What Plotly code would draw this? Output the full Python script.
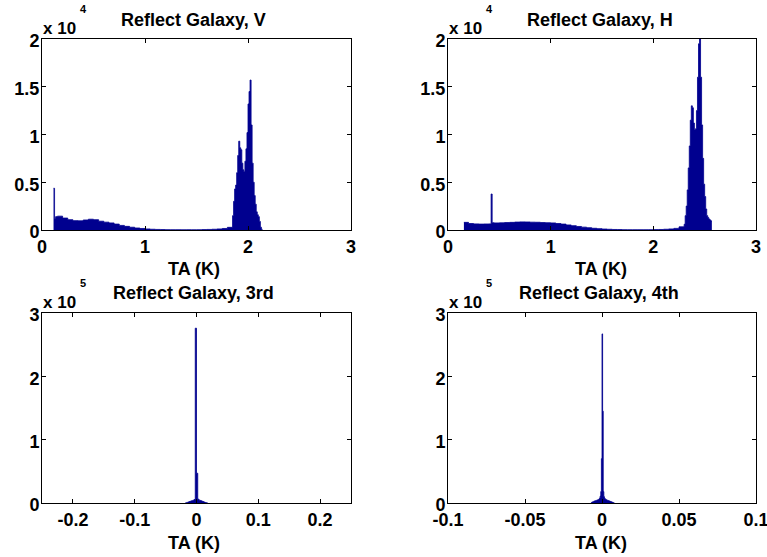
import plotly.graph_objects as go

W, H = 767, 557

# ---------------- data (histogram bin edges and counts) ----------------
v_edges = [0.112, 0.122, 0.132, 0.15, 0.20, 0.25, 0.30, 0.35, 0.40, 0.45, 0.50, 0.55,
           0.60, 0.65, 0.70, 0.75, 0.80, 0.85, 0.90, 0.95, 1.00, 1.05, 1.10, 1.15,
           1.20, 1.25, 1.30, 1.35, 1.40, 1.45, 1.50, 1.55, 1.60, 1.65, 1.70, 1.75,
           1.80, 1.85, 1.86, 1.87, 1.88, 1.89, 1.90, 1.91, 1.92, 1.93, 1.94, 1.95,
           1.96, 1.97, 1.98, 1.99, 2.00, 2.01, 2.02, 2.03, 2.04, 2.05, 2.06, 2.07,
           2.08, 2.09, 2.10, 2.11, 2.12, 2.13, 2.14]
v_counts = [4370, 1200, 1400,
            1450, 1250, 1080, 980, 960, 1050, 1130, 1080, 920, 820, 740, 620, 480,
            380, 290, 210, 160, 110, 80, 60, 45, 35, 30, 30, 25, 30, 25, 30, 40,
            60, 80, 110, 160, 280,
            1500, 3000, 4300, 4700, 6000, 7800, 9300, 8600, 8400, 7000, 6300, 6100,
            7200, 8500, 10200, 13200, 14500, 15700, 11000, 7000, 5000, 3600, 2700,
            1900, 1600, 1400, 900, 300, 80]

h_edges = [0.155, 0.20, 0.25, 0.30, 0.35, 0.40, 0.42, 0.43, 0.45, 0.50, 0.55, 0.60,
           0.65, 0.70, 0.75, 0.80, 0.85, 0.90, 0.95, 1.00, 1.05, 1.10, 1.15, 1.20,
           1.25, 1.30, 1.35, 1.40, 1.45, 1.50, 1.55, 1.60, 1.65, 1.70, 1.75, 1.80,
           1.85, 1.90, 1.95, 2.00, 2.05, 2.10, 2.15, 2.20, 2.25, 2.30, 2.31, 2.32,
           2.33, 2.34, 2.35, 2.36, 2.37, 2.38, 2.39, 2.40, 2.41, 2.42, 2.43, 2.44,
           2.45, 2.46, 2.47, 2.48, 2.49, 2.50, 2.51, 2.52, 2.53, 2.54, 2.55, 2.56,
           2.57]
h_counts = [800, 680, 640, 620, 630, 640, 3770, 760,
            740, 750, 780, 800, 830, 850, 840, 820, 810, 780, 760, 740, 680, 620,
            530, 450, 370, 300, 240, 180, 140, 100, 75, 55, 45, 35, 30, 30, 30, 30,
            35, 40, 55, 80, 110, 170, 330,
            600, 1500, 2500, 4200, 6500, 8800, 11500, 13000, 12800, 11200, 10500,
            10600, 12500, 16000, 19500, 20000, 16000, 11000, 7500, 4800, 3500, 2200,
            1500, 1300, 1150, 1050, 950]

s3_edges = [-0.018, -0.016, -0.014, -0.012, -0.010, -0.008, -0.006, -0.004, -0.002,
            0.000, 0.002, 0.004, 0.006, 0.008, 0.010, 0.012, 0.014, 0.016, 0.018]
s3_counts = [300, 900, 1600, 2300, 3000, 3700, 4300, 5500, 276000,
             47000, 6000, 4500, 3800, 3000, 2200, 1400, 700, 200]

s4_edges = [-0.0072, -0.0068, -0.0064, -0.0060, -0.0056, -0.0052, -0.0048, -0.0044,
            -0.0040, -0.0036, -0.0032, -0.0028, -0.0024, -0.0020, -0.0016, -0.0012,
            -0.0008, -0.0004, 0.0000, 0.0004, 0.0008, 0.0012, 0.0016, 0.0020,
            0.0024, 0.0028, 0.0032, 0.0036, 0.0040, 0.0044, 0.0048, 0.0052,
            0.0056, 0.0060, 0.0064, 0.0068, 0.0072, 0.0076, 0.0080]
s4_counts = [500, 1000, 1500, 2000, 2500, 3000, 3300, 3700, 4000, 4300, 4600, 5000,
             5500, 6500, 8000, 11000, 18000, 70000, 267000, 145000, 18000, 10000,
             7500, 6500, 5500, 5000, 4500, 4200, 3800, 3400, 3000, 2600, 2200, 1800,
             1400, 1000, 600, 300]

titles = ["Reflect Galaxy, V", "Reflect Galaxy, H", "Reflect Galaxy, 3rd", "Reflect Galaxy, 4th"]
exponents = ["4", "4", "5", "5"]
x_label = "TA (K)"

x_ranges = [[0, 3], [0, 3], [-0.25, 0.25], [-0.1, 0.1]]
x_ticks = [[0, 1, 2, 3], [0, 1, 2, 3], [-0.2, -0.1, 0, 0.1, 0.2], [-0.1, -0.05, 0, 0.05, 0.1]]
x_ticktext = [["0", "1", "2", "3"], ["0", "1", "2", "3"],
              ["-0.2", "-0.1", "0", "0.1", "0.2"], ["-0.1", "-0.05", "0", "0.05", "0.1"]]
y_ranges = [[0, 20000], [0, 20000], [0, 300000], [0, 300000]]
y_ticks = [[0, 5000, 10000, 15000, 20000], [0, 5000, 10000, 15000, 20000],
           [0, 100000, 200000, 300000], [0, 100000, 200000, 300000]]
y_ticktext = [["0", "0.5", "1", "1.5", "2"], ["0", "0.5", "1", "1.5", "2"],
              ["0", "1", "2", "3"], ["0", "1", "2", "3"]]

# ---------------- layout geometry (pixels) ----------------
boxes = [(42, 351, 39, 230), (448, 756, 39, 230), (42, 351, 313, 503), (448, 756, 313, 503)]
title_pos = [(193, 20), (600, 20), (193, 293), (599, 293)]
xlab_pos = [(194, 269), (601, 269), (194, 543), (601, 543)]

BAR = "#00008F"
FONT = "Arial, Liberation Sans, sans-serif"


def px(x):
    return x / W


def py(y):
    return 1 - y / H


fig = go.Figure()
all_edges = [v_edges, h_edges, s3_edges, s4_edges]
all_counts = [v_counts, h_counts, s3_counts, s4_counts]

for i in range(4):
    e = all_edges[i]
    c = all_counts[i]
    assert len(e) == len(c) + 1
    # histogram drawn as a filled step outline over the bin edges
    fig.add_trace(go.Scatter(x=e, y=list(c) + [c[-1]], mode="lines",
                             line=dict(shape="hv", color=BAR, width=0.8),
                             fill="tozeroy", fillcolor=BAR,
                             xaxis="x" if i == 0 else f"x{i+1}",
                             yaxis="y" if i == 0 else f"y{i+1}",
                             showlegend=False, hoverinfo="skip"))

layout = dict(width=W, height=H, margin=dict(l=0, r=0, t=0, b=0, autoexpand=False),
              paper_bgcolor="white", plot_bgcolor="white",
              font=dict(family=FONT, color="black"), annotations=[])

for i in range(4):
    x0, x1, y0, y1 = boxes[i]
    sx = "" if i == 0 else str(i + 1)
    common = dict(showline=True, linecolor="black", linewidth=1, mirror="ticks",
                  ticks="inside", ticklen=4, tickcolor="black", tickwidth=1,
                  showgrid=False, zeroline=False, automargin=False,
                  ticklabeloverflow="allow",
                  tickfont=dict(family=FONT, size=18, weight="bold", color="black"))
    layout["xaxis" + sx] = dict(domain=[px(x0), px(x1)], range=x_ranges[i],
                                tickmode="array", tickvals=x_ticks[i], ticktext=x_ticktext[i],
                                anchor="y" + sx, **common)
    layout["yaxis" + sx] = dict(domain=[py(y1), py(y0)], range=y_ranges[i],
                                tickmode="array", tickvals=y_ticks[i], ticktext=y_ticktext[i],
                                ticklabelstandoff=-2, ticklabelshift=2,
                                anchor="x" + sx, **common)
    tx, ty = title_pos[i]
    layout["annotations"].append(dict(text=titles[i], x=px(tx), y=py(ty), xref="paper", yref="paper",
                                      xanchor="center", yanchor="middle", showarrow=False,
                                      font=dict(family=FONT, size=18, weight="bold", color="black")))
    lx, ly = xlab_pos[i]
    layout["annotations"].append(dict(text=x_label, x=px(lx), y=py(ly), xref="paper", yref="paper",
                                      xanchor="center", yanchor="middle", showarrow=False,
                                      font=dict(family=FONT, size=18, weight="bold", color="black")))
    layout["annotations"].append(dict(text="x 10", x=px(x0 - 1), y=py(y0 - 11), xref="paper", yref="paper",
                                      xanchor="left", yanchor="middle", showarrow=False,
                                      font=dict(family=FONT, size=17, weight="bold", color="black")))
    layout["annotations"].append(dict(text=exponents[i], x=px(x0 + 36), y=py(y0 - 30), xref="paper", yref="paper",
                                      xanchor="left", yanchor="middle", showarrow=False,
                                      font=dict(family=FONT, size=11, weight="bold", color="black")))

fig.update_layout(**layout)
fig.write_html("out.html", config={"displayModeBar": False, "staticPlot": True},
               post_script="document.body.style.margin='0';document.body.style.overflow='hidden';")
